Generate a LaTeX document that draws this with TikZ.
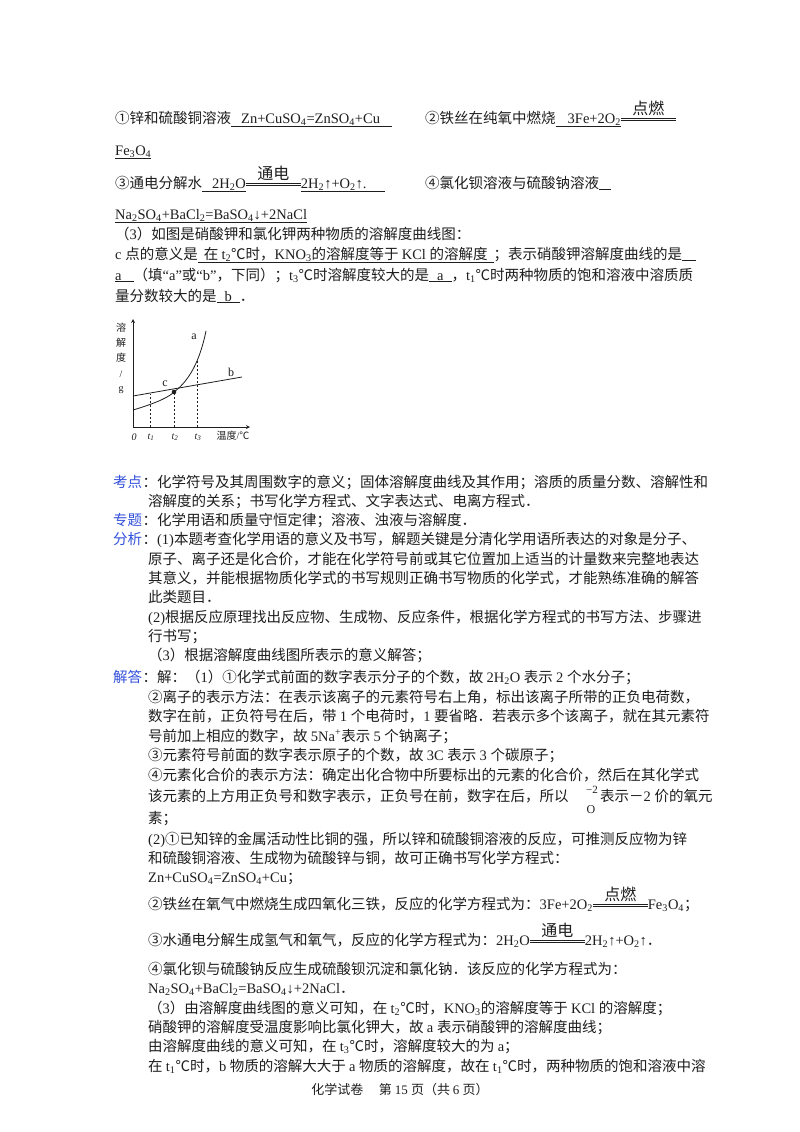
\documentclass[tikz,border=0pt]{standalone}
\usepackage{fontspec}
\setmainfont{Liberation Serif}
\newfontfamily\cjk{Noto Sans CJK SC}
\XeTeXinterchartokenstate=1
\newXeTeXintercharclass\CJKcls
\count255="4E00
\loop\XeTeXcharclass\count255=\CJKcls\advance\count255 by 1 \ifnum\count255<"A000\repeat
\count255="3000
\loop\XeTeXcharclass\count255=\CJKcls\advance\count255 by 1 \ifnum\count255<"3040\repeat
\count255="FF00
\loop\XeTeXcharclass\count255=\CJKcls\advance\count255 by 1 \ifnum\count255<"FFF0\repeat
\count255="2460
\loop\XeTeXcharclass\count255=\CJKcls\advance\count255 by 1 \ifnum\count255<"2474\repeat
\XeTeXcharclass"2103=\CJKcls
\XeTeXinterchartoks 0 \CJKcls = {\cjk}
\XeTeXinterchartoks 4095 \CJKcls = {\cjk}
\XeTeXinterchartoks \CJKcls 0 = {\rmfamily}
\XeTeXinterchartoks 4095 0 = {\rmfamily}
\newcommand\dn[1]{\textsubscript{#1}}
\newcommand\sps[1]{\textsuperscript{#1}}
\newcommand\uln[1]{\underline{#1}}
\newcommand\eqc[2]{\rlap{\raisebox{9pt}{\makebox[#2]{\cjk\fontsize{16}{16}\selectfont #1}}}\rlap{\rule[2pt]{#2}{0.6pt}}\rule[4.8pt]{#2}{0.6pt}}
\definecolor{ink}{RGB}{30,30,30}
\definecolor{lab}{RGB}{50,80,220}
\begin{document}
\begin{tikzpicture}[x=1pt,y=-1pt,
  tx/.style={anchor=base west,inner sep=0pt,text=ink,font=\fontsize{14.5}{19}\selectfont},
  lb/.style={tx,text=lab},
  sm/.style={inner sep=0pt,text=ink,font=\fontsize{10}{10}\selectfont}]
\useasboundingbox[fill=white] (0,0) rectangle (800,1132);
\node[tx] (l1a) at (115,123) {①锌和硫酸铜溶液\uln{\hspace{10pt}Zn+CuSO\dn{4}=ZnSO\dn{4}+Cu\hspace{12pt}}};
\node[tx] (l1b) at (425,123) {②铁丝在纯氧中燃烧\uln{\hspace{12pt}3Fe+2O\dn{2}}\eqc{点燃}{55pt}};
\node[tx] (l2) at (115,155) {\uln{Fe\dn{3}O\dn{4}}};
\node[tx] (l3a) at (115,188) {③通电分解水\uln{\hspace{10pt}2H\dn{2}O}\eqc{通电}{55pt}\uln{2H\dn{2}↑+O\dn{2}↑.\hspace{18pt}}};
\node[tx] (l3b) at (425,188) {④氯化钡溶液与硫酸钠溶液\uln{\hspace{12pt}}};
\node[tx] (l4) at (115,219) {\uln{Na\dn{2}SO\dn{4}+BaCl\dn{2}=BaSO\dn{4}↓+2NaCl}};
\node[tx] (l5) at (115,239) {（3）如图是硝酸钾和氯化钾两种物质的溶解度曲线图：};
\node[tx] (l6) at (115,259) {c 点的意义是\uln{\hspace{6pt}在 t\dn{2}℃时，KNO\dn{3}的溶解度等于 KCl 的溶解度\hspace{6pt}}；表示硝酸钾溶解度曲线的是\uln{\hspace{14pt}}};
\node[tx] (l7) at (115,280) {\uln{a\hspace{12pt}}（填“a”或“b”，下同）；t\dn{3}℃时溶解度较大的是\uln{\hspace{8pt}a\hspace{8pt}}，t\dn{1}℃时两种物质的饱和溶液中溶质质};
\node[tx] (l8) at (115,301) {量分数较大的是\uln{\hspace{8pt}b\hspace{8pt}}．};
% graph
\coordinate (o) at (133,427);
\coordinate (yt) at (133,319);
\coordinate (xe) at (250,427);
\draw[ink,line width=0.8pt,-stealth] (o) -- (yt);
\draw[ink,line width=0.8pt,-stealth] (o) -- (xe);
\coordinate (c) at (174,392);
\coordinate (a1) at (133,410);
\coordinate (a2) at (206,331);
\coordinate (b1) at (133,396);
\coordinate (b2) at (242,377);
\draw[ink,line width=0.8pt] (a1) .. controls (160,402) and (170,396) .. (c) .. controls (190,380) and (200,360) .. (a2);
\draw[ink,line width=0.8pt] (b1) -- (b2);
\fill[ink] (c) circle (2.3pt);
\coordinate (p1) at (150,393.5);
\coordinate (p3) at (197,360);
\coordinate (q1) at (150,427);
\coordinate (q2) at (174,427);
\coordinate (q3) at (197,427);
\draw[ink,line width=0.5pt,dash pattern=on 2pt off 2pt] (q1) -- (p1);
\draw[ink,line width=0.6pt,dash pattern=on 2pt off 2pt] (q2) -- (c);
\draw[ink,line width=0.6pt,dash pattern=on 2pt off 2pt] (q3) -- (p3);
\node[sm] (ya) at (121,328) {\cjk 溶};
\node[sm] (yb) at (121,343) {\cjk 解};
\node[sm] (yc) at (121,358) {\cjk 度};
\node[sm] (yd) at (121,374) {/};
\node[sm] (ye) at (121,390) {g};
\node[sm] (la) at (194,337) {\fontsize{12}{12}\selectfont a};
\node[sm] (lbb) at (231,372) {\fontsize{12}{12}\selectfont b};
\node[sm] (lc) at (165,384) {\fontsize{12}{12}\selectfont c};
\node[sm] (t0) at (134,437) {\itshape 0};
\node[sm] (t1) at (151,437) {\itshape t\dn{1}};
\node[sm] (t2) at (175,437) {\itshape t\dn{2}};
\node[sm] (t3) at (198,437) {\itshape t\dn{3}};
\node[sm] (tw) at (233,436) {\cjk 温度\rmfamily/℃};
% analysis
\node[lb] (k1) at (113,487) {考点};
\node[tx,anchor=base west] (k1t) at (k1.base east) {：化学符号及其周围数字的意义；固体溶解度曲线及其作用；溶质的质量分数、溶解性和};
\node[tx] (k2) at (148,506) {溶解度的关系；书写化学方程式、文字表达式、电离方程式．};
\node[lb] (z1) at (113,525) {专题};
\node[tx,anchor=base west] (z1t) at (z1.base east) {：化学用语和质量守恒定律；溶液、浊液与溶解度．};
\node[lb] (f1) at (113,544) {分析};
\node[tx,anchor=base west] (f1t) at (f1.base east) {：(1)本题考查化学用语的意义及书写，解题关键是分清化学用语所表达的对象是分子、};
\node[tx] (f2) at (148,564) {原子、离子还是化合价，才能在化学符号前或其它位置加上适当的计量数来完整地表达};
\node[tx] (f3) at (148,583) {其意义，并能根据物质化学式的书写规则正确书写物质的化学式，才能熟练准确的解答};
\node[tx] (f4) at (148,602) {此类题目．};
\node[tx] (f5) at (148,622) {(2)根据反应原理找出反应物、生成物、反应条件，根据化学方程式的书写方法、步骤进};
\node[tx] (f6) at (148,641) {行书写；};
\node[tx] (f7) at (148,660) {（3）根据溶解度曲线图所表示的意义解答；};
\node[lb] (j1) at (113,682) {解答};
\node[tx,anchor=base west] (j1t) at (j1.base east) {：解：（1）①化学式前面的数字表示分子的个数，故 2H\dn{2}O 表示 2 个水分子；};
\node[tx] (j2) at (148,702) {②离子的表示方法：在表示该离子的元素符号右上角，标出该离子所带的正负电荷数，};
\node[tx] (j3) at (148,721) {数字在前，正负符号在后，带 1 个电荷时，1 要省略．若表示多个该离子，就在其元素符};
\node[tx] (j4) at (148,741) {号前加上相应的数字，故 5Na\sps{+}表示 5 个钠离子；};
\node[tx] (j5) at (148,760) {③元素符号前面的数字表示原子的个数，故 3C 表示 3 个碳原子；};
\node[tx] (j6) at (148,780) {④元素化合价的表示方法：确定出化合物中所要标出的元素的化合价，然后在其化学式};
\node[tx] (j7) at (148,801) {该元素的上方用正负号和数字表示，正负号在前，数字在后，所以};
\node[tx] (j7b) at (600,801) {表示－2 价的氧元};
\node[sm] (ox) at (591,810) {\fontsize{12}{12}\selectfont\cjk O};
\node[sm] (oxv) at (592,790) {\fontsize{11}{11}\selectfont −2};
\node[tx] (j8) at (148,823) {素；};
\node[tx] (j9) at (148,844) {(2)①已知锌的金属活动性比铜的强，所以锌和硫酸铜溶液的反应，可推测反应物为锌};
\node[tx] (j10) at (148,863) {和硫酸铜溶液、生成物为硫酸锌与铜，故可正确书写化学方程式：};
\node[tx] (j11) at (148,882) {Zn+CuSO\dn{4}=ZnSO\dn{4}+Cu；};
\node[tx] (j12) at (148,909) {②铁丝在氧气中燃烧生成四氧化三铁，反应的化学方程式为：3Fe+2O\dn{2}\eqc{点燃}{55pt}Fe\dn{3}O\dn{4}；};
\node[tx] (j13) at (148,945) {③水通电分解生成氢气和氧气，反应的化学方程式为：2H\dn{2}O\eqc{通电}{55pt}2H\dn{2}↑+O\dn{2}↑．};
\node[tx] (j14) at (148,974) {④氯化钡与硫酸钠反应生成硫酸钡沉淀和氯化钠．该反应的化学方程式为：};
\node[tx] (j15) at (148,993) {Na\dn{2}SO\dn{4}+BaCl\dn{2}=BaSO\dn{4}↓+2NaCl．};
\node[tx] (j16) at (148,1013) {（3）由溶解度曲线图的意义可知，在 t\dn{2}℃时，KNO\dn{3}的溶解度等于 KCl 的溶解度；};
\node[tx] (j17) at (148,1032) {硝酸钾的溶解度受温度影响比氯化钾大，故 a 表示硝酸钾的溶解度曲线；};
\node[tx] (j18) at (148,1051) {由溶解度曲线的意义可知，在 t\dn{3}℃时，溶解度较大的为 a；};
\node[tx] (j19) at (148,1071) {在 t\dn{1}℃时，b 物质的溶解大大于 a 物质的溶解度，故在 t\dn{1}℃时，两种物质的饱和溶液中溶};
\node[inner sep=0pt,text=ink,font=\fontsize{13}{13}\selectfont,anchor=base] (ft) at (400,1094) {化学试卷\hspace{1.2em}第 15 页（共 6 页）};
\end{tikzpicture}
\end{document}
